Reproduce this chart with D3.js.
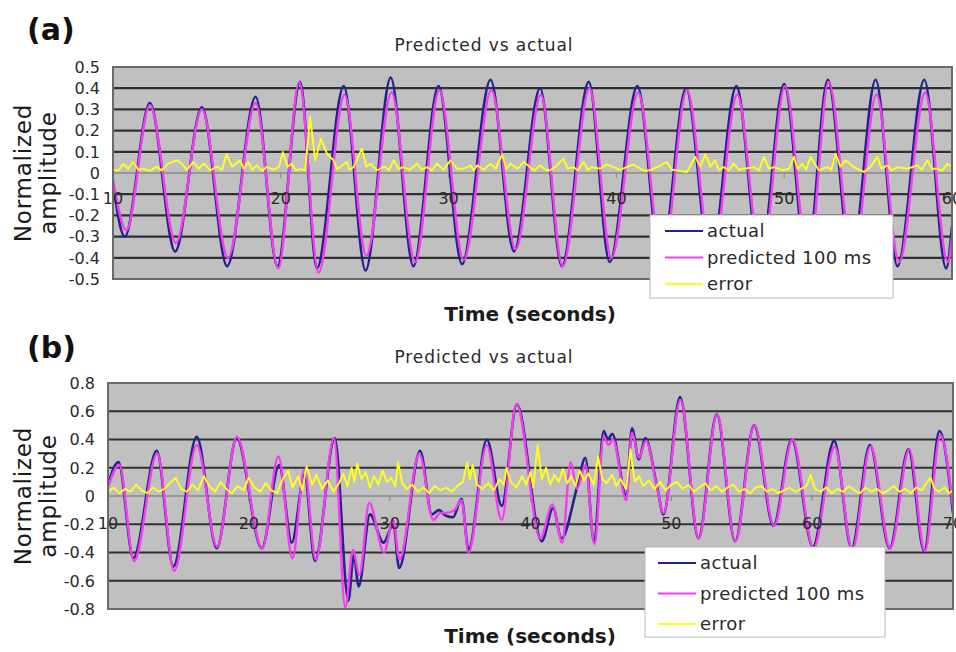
<!DOCTYPE html>
<html>
<head>
<meta charset="utf-8">
<script src="https://cdn.jsdelivr.net/npm/d3@7/dist/d3.min.js"></script>
<style>
body { margin: 0; background: #fff; }
text { font-family: "DejaVu Sans", sans-serif; fill: #2a2a2a; }
</style>
</head>
<body>
<svg id="chart" width="956" height="652"></svg>
<script>
// ---- data (time in seconds, normalized amplitude) ----
var seriesNames = ["actual", "predicted 100 ms", "error"];
var titleText = "Predicted vs actual";
var xTitle = "Time (seconds)";
var yTitle = ["Normalized", "amplitude"];

// panel (a)
var xTicksA = [10, 20, 30, 40, 50, 60];
var yTicksA = [-0.5, -0.4, -0.3, -0.2, -0.1, 0, 0.1, 0.2, 0.3, 0.4, 0.5];
var actualA = [[10.0,-0.05],[10.7,-0.30],[12.2,0.33],[13.7,-0.37],[15.3,0.31],[16.8,-0.44],[18.5,0.36],[19.8,-0.44],
  [21.15,0.43],[22.15,-0.45],[23.75,0.41],[25.05,-0.46],[26.55,0.45],[27.9,-0.44],[29.4,0.41],[30.8,-0.43],
  [32.5,0.44],[33.9,-0.37],[35.45,0.40],[36.75,-0.44],[38.35,0.43],[39.6,-0.42],[41.25,0.41],[42.65,-0.42],
  [44.15,0.40],[45.6,-0.42],[47.15,0.41],[48.55,-0.42],[50.0,0.42],[51.35,-0.42],[52.6,0.44],[54.0,-0.42],
  [55.45,0.44],[56.75,-0.44],[58.35,0.44],[59.65,-0.45],[60.0,-0.25]];
var predictedA = [[10.0,-0.03],[10.8,-0.27],[12.2,0.32],[13.75,-0.33],[15.3,0.30],[16.85,-0.40],[18.5,0.33],[19.85,-0.45],
  [21.1,0.43],[22.25,-0.47],[23.8,0.37],[25.1,-0.39],[26.6,0.38],[28.0,-0.42],[29.45,0.39],[30.9,-0.41],
  [32.55,0.39],[34.0,-0.36],[35.5,0.37],[36.8,-0.44],[38.4,0.40],[39.7,-0.40],[41.3,0.38],[42.75,-0.42],
  [44.2,0.39],[45.7,-0.42],[47.2,0.37],[48.65,-0.42],[50.05,0.41],[51.45,-0.42],[52.65,0.43],[54.1,-0.42],
  [55.5,0.37],[56.85,-0.42],[58.4,0.38],[59.75,-0.42],[60.0,-0.30]];
var errorA = [[10.0,0.02],[10.3,0.01],[10.6,0.044],[10.9,0.02],[11.2,0.052],[11.5,0.015],[11.8,0.02],[12.2,0.01],
  [12.6,0.031],[12.9,0.012],[13.3,0.044],[13.8,0.06],[14.1,0.044],[14.4,0.015],[14.8,0.052],[15.1,0.02],
  [15.4,0.044],[15.8,0.013],[16.2,0.03],[16.5,0.015],[16.77,0.088],[17.1,0.03],[17.57,0.06],[17.8,0.02],
  [18.07,0.052],[18.3,0.015],[18.57,0.036],[18.9,0.01],[19.16,0.028],[19.6,0.015],[19.9,0.03],[20.12,0.099],
  [20.4,0.03],[20.66,0.044],[20.9,0.012],[21.15,0.02],[21.45,0.013],[21.75,0.264],[22.05,0.06],[22.39,0.162],
  [22.75,0.091],[23.14,0.06],[23.35,0.02],[23.54,0.028],[23.94,0.052],[24.1,0.015],[24.34,0.028],[24.83,0.115],
  [25.1,0.03],[25.33,0.044],[25.73,0.013],[26.2,0.03],[26.45,0.012],[26.73,0.06],[27.0,0.02],[27.32,0.028],
  [27.7,0.015],[28.12,0.044],[28.4,0.015],[28.72,0.028],[29.0,0.012],[29.31,0.044],[29.7,0.015],[30.11,0.06],
  [30.5,0.02],[30.9,0.02],[31.3,0.035],[31.5,0.012],[31.7,0.036],[32.1,0.015],[32.5,0.044],[32.8,0.02],
  [33.19,0.088],[33.45,0.02],[33.69,0.044],[34.1,0.02],[34.49,0.052],[34.85,0.028],[35.1,0.012],[35.45,0.036],
  [35.8,0.015],[36.04,0.013],[36.4,0.03],[36.84,0.068],[37.1,0.02],[37.44,0.028],[37.7,0.012],[38.04,0.052],
  [38.3,0.015],[38.54,0.028],[39.04,0.02],[39.4,0.04],[39.84,0.028],[40.2,0.015],[40.62,0.028],[41.0,0.04],
  [41.42,0.02],[41.7,0.01],[42.01,0.013],[42.5,0.03],[43.01,0.052],[43.3,0.015],[43.61,0.013],[44.2,0.005],
  [44.7,0.076],[45.0,0.03],[45.3,0.088],[45.6,0.03],[45.89,0.06],[46.1,0.015],[46.39,0.028],[46.7,0.012],
  [46.99,0.044],[47.3,0.015],[47.59,0.02],[48.18,0.028],[48.5,0.012],[48.78,0.076],[49.1,0.02],[49.38,0.028],
  [49.97,0.013],[50.3,0.02],[50.57,0.076],[50.8,0.02],[51.07,0.044],[51.3,0.015],[51.57,0.076],[52.06,0.013],
  [52.56,0.028],[52.8,0.015],[53.06,0.091],[53.35,0.03],[53.66,0.06],[54.15,0.028],[54.75,0.005],[55.15,0.03],
  [55.55,0.076],[55.8,0.02],[56.14,0.036],[56.4,0.012],[56.74,0.028],[57.34,0.02],[57.94,0.036],[58.2,0.015],
  [58.53,0.06],[58.8,0.02],[59.13,0.02],[59.4,0.01],[59.73,0.044],[60.0,0.028]];

// panel (b)
var xTicksB = [10, 20, 30, 40, 50, 60, 70];
var yTicksB = [-0.8, -0.6, -0.4, -0.2, 0, 0.2, 0.4, 0.6, 0.8];
var actualB = [[10.0,0.08],[10.74,0.24],[11.8,-0.44],[13.46,0.32],[14.64,-0.50],[16.3,0.42],[17.72,-0.37],[19.14,0.41],
  [20.92,-0.37],[22.15,0.22],[23.05,-0.33],[23.95,0.15],[24.7,-0.46],[26.1,0.41],[27.07,-0.74],[27.45,-0.42],
  [27.8,-0.64],[28.6,-0.13],[29.56,-0.33],[30.27,-0.20],[30.67,-0.51],[32.16,0.32],[33.0,-0.13],[33.5,-0.10],
  [34.0,-0.14],[34.5,-0.15],[35.1,-0.02],[35.6,-0.38],[36.9,0.40],[37.96,-0.07],[39.03,0.65],[40.8,-0.32],
  [41.6,-0.085],[42.2,-0.30],[43.3,0.06],[43.9,0.27],[44.5,-0.32],[45.2,0.46],[45.5,0.40],[45.8,0.44],
  [46.8,0.0],[47.2,0.48],[47.7,0.26],[48.15,0.41],[49.0,0.06],[49.44,-0.13],[50.62,0.70],[51.93,-0.30],
  [53.23,0.58],[54.53,-0.32],[55.88,0.50],[57.25,-0.21],[58.55,0.40],[60.05,-0.36],[61.56,0.39],[62.8,-0.37],
  [64.1,0.36],[65.5,-0.37],[66.84,0.33],[67.95,-0.39],[69.04,0.46],[70.0,-0.12]];
var predictedB = [[10.0,0.06],[10.8,0.22],[11.85,-0.46],[13.5,0.30],[14.7,-0.53],[16.3,0.36],[17.75,-0.36],[19.15,0.42],
  [20.95,-0.37],[22.1,0.28],[23.1,-0.44],[23.95,0.19],[24.75,-0.45],[26.05,0.41],[26.85,-0.79],[27.4,-0.38],
  [27.85,-0.56],[28.55,-0.05],[29.6,-0.40],[30.25,-0.17],[30.7,-0.45],[32.1,0.30],[33.1,-0.17],[33.6,-0.12],
  [34.0,-0.12],[34.6,-0.10],[35.1,-0.03],[35.6,-0.40],[36.9,0.36],[37.95,-0.17],[39.0,0.65],[40.7,-0.30],
  [41.55,-0.06],[42.25,-0.33],[42.85,0.24],[43.3,0.05],[43.9,0.22],[44.55,-0.34],[45.2,0.42],[45.55,0.36],
  [45.85,0.40],[46.8,-0.03],[47.2,0.45],[47.7,0.27],[48.2,0.39],[49.0,0.05],[49.45,-0.12],[50.65,0.68],
  [51.95,-0.30],[53.25,0.58],[54.55,-0.32],[55.9,0.50],[57.3,-0.21],[58.6,0.40],[60.1,-0.37],[61.6,0.35],
  [62.85,-0.38],[64.15,0.35],[65.55,-0.37],[66.9,0.33],[68.0,-0.39],[69.1,0.43],[70.0,-0.08]];
var errorB = [[10.0,0.03],[10.4,0.06],[10.8,0.02],[11.2,0.05],[11.6,0.03],[12.0,0.08],[12.4,0.04],[12.8,0.02],
  [13.2,0.06],[13.6,0.03],[14.0,0.05],[14.4,0.09],[14.8,0.13],[15.2,0.05],[15.6,0.03],[16.0,0.08],[16.4,0.04],
  [16.8,0.14],[17.2,0.07],[17.6,0.03],[18.0,0.10],[18.4,0.05],[18.8,0.02],[19.2,0.07],[19.6,0.04],[20.0,0.13],
  [20.4,0.06],[20.8,0.03],[21.2,0.09],[21.6,0.04],[22.0,0.02],[22.4,0.12],[22.8,0.18],[23.1,0.06],[23.5,0.14],
  [23.8,0.04],[24.1,0.21],[24.5,0.08],[24.8,0.15],[25.2,0.05],[25.6,0.11],[26.0,0.03],[26.4,0.09],[26.7,0.16],
  [27.0,0.07],[27.3,0.20],[27.5,0.10],[27.7,0.23],[28.0,0.12],[28.3,0.17],[28.6,0.06],[28.9,0.14],[29.2,0.08],
  [29.5,0.18],[29.8,0.10],[30.1,0.13],[30.4,0.07],[30.6,0.24],[30.9,0.09],[31.2,0.05],[31.6,0.08],[32.0,0.03],
  [32.4,0.06],[32.8,0.02],[33.2,0.07],[33.6,0.04],[34.0,0.06],[34.4,0.03],[34.8,0.07],[35.2,0.10],[35.5,0.24],
  [35.7,0.12],[35.9,0.22],[36.2,0.08],[36.6,0.05],[37.0,0.09],[37.4,0.04],[37.8,0.12],[38.1,0.08],[38.3,0.20],
  [38.6,0.10],[39.0,0.06],[39.4,0.14],[39.7,0.08],[40.0,0.17],[40.2,0.06],[40.5,0.36],[40.8,0.12],[41.1,0.20],
  [41.4,0.08],[41.7,0.15],[42.0,0.10],[42.3,0.19],[42.6,0.09],[42.9,0.14],[43.2,0.07],[43.5,0.18],[43.8,0.11],
  [44.1,0.16],[44.5,0.08],[44.8,0.28],[45.1,0.12],[45.4,0.09],[45.8,0.15],[46.1,0.07],[46.4,0.12],[46.8,0.05],
  [47.1,0.33],[47.4,0.10],[47.7,0.14],[48.0,0.07],[48.4,0.11],[48.8,0.05],[49.2,0.10],[49.6,0.04],[50.0,0.08],
  [50.4,0.10],[50.8,0.05],[51.2,0.08],[51.6,0.03],[52.0,0.06],[52.4,0.09],[52.8,0.04],[53.2,0.07],[53.6,0.03],
  [54.0,0.06],[54.4,0.08],[54.8,0.03],[55.2,0.05],[55.6,0.02],[56.0,0.06],[56.4,0.07],[56.8,0.03],[57.2,0.05],
  [57.6,0.02],[58.0,0.04],[58.4,0.06],[58.8,0.03],[59.2,0.05],[59.6,0.07],[59.9,0.15],[60.2,0.05],[60.6,0.03],
  [61.0,0.06],[61.4,0.02],[61.8,0.05],[62.2,0.03],[62.6,0.07],[63.0,0.04],[63.4,0.02],[63.8,0.06],[64.2,0.03],
  [64.6,0.05],[65.0,0.02],[65.4,0.04],[65.8,0.07],[66.2,0.03],[66.6,0.05],[67.0,0.02],[67.4,0.06],[67.8,0.04],
  [68.1,0.09],[68.4,0.13],[68.7,0.05],[69.0,0.03],[69.4,0.06],[69.7,0.02],[70.0,0.04]];

// ---- styles ----
var colors = ["#23238c", "#f53cf2", "#ffff1e"];
var svg = d3.select("#chart");

function drawPanel(p) {
    var x = d3.scaleLinear().domain(d3.extent(p.xTicks)).range([p.left, p.right]);
    var y = d3.scaleLinear().domain(d3.extent(p.yTicks)).range([p.bottom, p.top]);
    var g = svg.append("g");

    // panel letter and title
    g.append("text").attr("x", 27).attr("y", p.letterY)
        .style("font-size", "30px").style("font-weight", "bold").style("fill", "#111")
        .text(p.letter);
    g.append("text").attr("x", 484).attr("y", p.titleY).attr("text-anchor", "middle")
        .style("font-size", "17px").style("letter-spacing", "0.9px")
        .text(titleText);

    // plot area
    g.append("rect")
        .attr("x", p.left).attr("y", p.top)
        .attr("width", p.right - p.left).attr("height", p.bottom - p.top)
        .attr("fill", "#c0c0c0");

    // gridlines
    g.selectAll(".grid").data(p.yTicks.filter(function (d, i) {
            return d != 0 && i > 0 && i < p.yTicks.length - 1; }))
        .enter().append("line")
        .attr("x1", p.left).attr("x2", p.right)
        .attr("y1", function (d) { return y(d); })
        .attr("y2", function (d) { return y(d); })
        .attr("stroke", "#303030").attr("stroke-width", 2.2);

    // zero axis with ticks
    g.append("line")
        .attr("x1", p.left).attr("x2", p.right)
        .attr("y1", y(0)).attr("y2", y(0))
        .attr("stroke", "#8a8a8a").attr("stroke-width", 1.5);
    g.selectAll(".xtick").data(p.xTicks).enter().append("line")
        .attr("x1", function (d) { return x(d); })
        .attr("x2", function (d) { return x(d); })
        .attr("y1", y(0)).attr("y2", y(0) + 5)
        .attr("stroke", "#8a8a8a").attr("stroke-width", 1.2);

    // series
    var clipId = "clip" + p.letter.replace(/\W/g, "");
    svg.append("clipPath").attr("id", clipId).append("rect")
        .attr("x", p.left).attr("y", p.top)
        .attr("width", p.right - p.left).attr("height", p.bottom - p.top);
    var smooth = d3.line().curve(d3.curveMonotoneX)
        .x(function (d) { return x(d[0]); })
        .y(function (d) { return y(d[1]); });
    var jagged = d3.line()
        .x(function (d) { return x(d[0]); })
        .y(function (d) { return y(d[1]); });
    var lines = g.append("g").attr("clip-path", "url(#" + clipId + ")");
    lines.append("path").attr("d", smooth(p.actual))
        .attr("fill", "none").attr("stroke", colors[0]).attr("stroke-width", 2.6);
    lines.append("path").attr("d", smooth(p.predicted))
        .attr("fill", "none").attr("stroke", colors[1]).attr("stroke-width", 2.4);
    lines.append("path").attr("d", jagged(p.error))
        .attr("fill", "none").attr("stroke", colors[2]).attr("stroke-width", 1.9)
        .attr("stroke-linejoin", "round");

    // frame
    g.append("rect")
        .attr("x", p.left).attr("y", p.top)
        .attr("width", p.right - p.left).attr("height", p.bottom - p.top)
        .attr("fill", "none").attr("stroke", "#6a6a6a").attr("stroke-width", 2);

    // tick labels
    g.selectAll(".ylab").data(p.yTicks).enter().append("text")
        .attr("x", p.left - 13).attr("y", function (d) { return y(d); })
        .attr("dy", "0.36em").attr("text-anchor", "end")
        .style("font-size", "16px")
        .text(function (d) { return d == 0 ? "0" : d3.format(".1f")(d).replace("−", "-"); });
    g.selectAll(".xlab").data(p.xTicks).enter().append("text")
        .attr("x", function (d) { return x(d); }).attr("y", y(0) + p.xLabOffset)
        .attr("text-anchor", "middle")
        .style("font-size", "16px")
        .text(function (d) { return d; });

    // axis titles
    g.append("text").attr("x", 530).attr("y", p.xTitleY).attr("text-anchor", "middle")
        .style("font-size", "20px").style("font-weight", "bold").style("fill", "#1a1a1a")
        .text(xTitle);
    var yc = (p.top + p.bottom) / 2;
    g.selectAll(".ytitle").data(yTitle).enter().append("text")
        .attr("transform", function (d, i) {
            return "translate(" + (31 + i * 25) + "," + yc + ") rotate(-90)"; })
        .attr("text-anchor", "middle")
        .style("font-size", "23px").style("letter-spacing", "0.8px").style("fill", "#1a1a1a")
        .text(function (d) { return d; });

    // legend
    var L = p.legend;
    var lg = g.append("g");
    lg.append("rect").attr("x", L.x).attr("y", L.y).attr("width", L.w).attr("height", L.h)
        .attr("fill", "#fff").attr("stroke", "#b8b8b8").attr("stroke-width", 1);
    seriesNames.forEach(function (name, i) {
        var ry = L.y + L.first + i * L.step;
        lg.append("line").attr("x1", L.x + L.pad).attr("x2", L.x + L.pad + 38)
            .attr("y1", ry).attr("y2", ry)
            .attr("stroke", colors[i]).attr("stroke-width", 2.2);
        lg.append("text").attr("x", L.x + L.pad + 42).attr("y", ry).attr("dy", "0.35em")
            .style("font-size", "18px").style("letter-spacing", "0.4px")
            .text(name);
    });
}

drawPanel({
    letter: "(a)", letterY: 40, titleY: 51,
    left: 113, right: 952, top: 67, bottom: 279,
    xTicks: xTicksA, yTicks: yTicksA, xLabOffset: 31, xTitleY: 321,
    actual: actualA, predicted: predictedA, error: errorA,
    legend: { x: 650, y: 215, w: 243, h: 83, pad: 15, first: 16, step: 26.5 }
});
drawPanel({
    letter: "(b)", letterY: 358, titleY: 363,
    left: 108, right: 953, top: 383, bottom: 609,
    xTicks: xTicksB, yTicks: yTicksB, xLabOffset: 33, xTitleY: 643,
    actual: actualB, predicted: predictedB, error: errorB,
    legend: { x: 645, y: 547, w: 240, h: 90, pad: 13, first: 16, step: 30.5 }
});
</script>
</body>
</html>
